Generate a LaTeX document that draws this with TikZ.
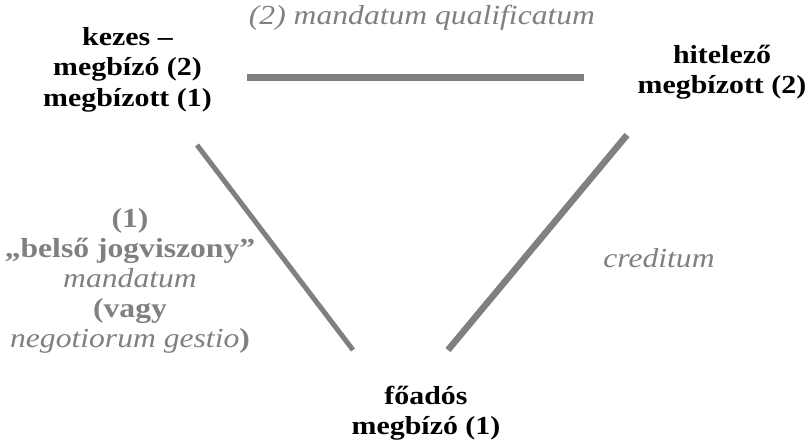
\documentclass[tikz,border=0pt]{standalone}
\usepackage{fontspec}
\setmainfont[FakeStretch=1.15]{Liberation Serif}
\definecolor{lgray}{RGB}{128,128,128}
\begin{document}
\begin{tikzpicture}[x=1bp,y=-1bp,
  link/.style={draw=lgray, line cap=butt},
  who/.style={align=center, inner sep=0pt, font={\fontsize{26bp}{30.5bp}\selectfont\bfseries}},
  rel/.style={align=center, inner sep=0pt, text=lgray, font={\fontsize{27.5bp}{30bp}\selectfont}}]
\useasboundingbox (0,0) rectangle (811,446);
% parties
\node[who] (kezes) at (127.5,69.5) {kezes --\\megbízó (2)\\megbízott (1)};
\node[who] (hitelezo) at (722,72) {hitelező\\megbízott (2)};
\node[who] (foados) at (426,413) {főadós\\megbízó (1)};
% relation labels
\node[rel, anchor=base] (mq) at (422,25) {\itshape (2) mandatum qualificatum};
\node[rel] (belso) at (130,281) {\textbf{(1)}\\\textbf{„belső jogviszony”}\\\textit{mandatum}\\\textbf{(vagy}\\\textit{negotiorum gestio}\textbf{)}};
\node[rel, anchor=base] (cred) at (659,268) {\itshape creditum};
% connector end points
\coordinate (kR) at (247,77.5);
\coordinate (hL) at (584,77.5);
\coordinate (kB) at (197,145);
\coordinate (fL) at (353,350);
\coordinate (hB) at (627,135);
\coordinate (fR) at (448,350);
\draw[link, line width=7bp] (kR) -- (hL);
\draw[link, line width=5bp] (kB) -- (fL);
\draw[link, line width=6.5bp] (hB) -- (fR);
\end{tikzpicture}
\end{document}
